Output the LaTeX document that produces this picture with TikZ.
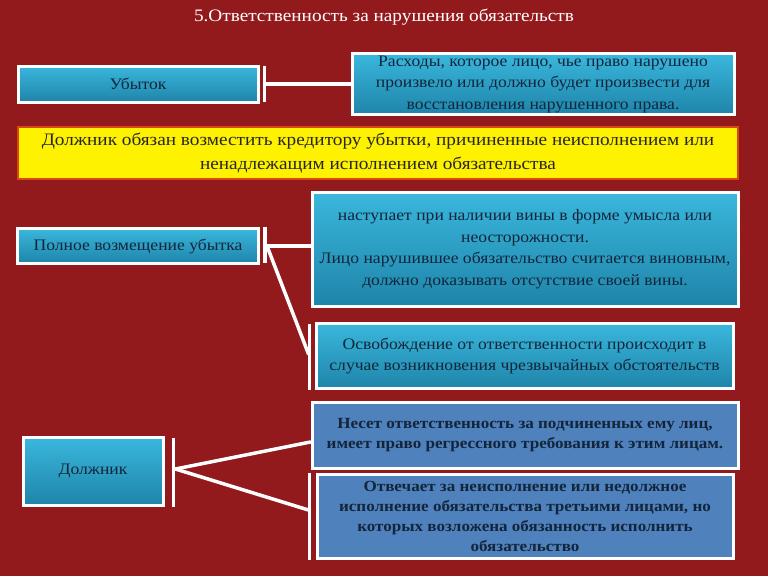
\documentclass[tikz,border=0pt]{standalone}
\usepackage{fontspec}
\setmainfont[FakeStretch=1.1]{Liberation Serif}
\definecolor{bgred}{HTML}{921A1C}
\definecolor{boxtop}{HTML}{3AB7DD}
\definecolor{boxbot}{HTML}{1F84A9}
\definecolor{steel}{HTML}{4F81BD}
\definecolor{navy}{HTML}{12253A}
\definecolor{yelframe}{HTML}{D9480F}
\tikzset{
  cyanbox/.style={draw=white, line width=3pt, top color=boxtop, bottom color=boxbot,
    text=navy, align=center, inner sep=2pt, font=\fontsize{16}{21.5}\selectfont},
  bluebox/.style={draw=white, line width=3pt, fill=steel, text=navy, align=center,
    inner sep=2pt, font=\bfseries\fontsize{15.5}{20}\selectfont},
  yelbox/.style={draw=yelframe, line width=1.5pt, fill=yellow, text=black!85,
    align=center, font=\fontsize{17.5}{24}\selectfont},
  bar/.style={draw=white, line width=3.5pt},
  link/.style={draw=white, line width=3.5pt, line cap=round}
}
\begin{document}
\begin{tikzpicture}[x=1pt, y=-1pt]
\fill[bgred] (0,0) rectangle (768,576);
\useasboundingbox (0,0) rectangle (768,576);

\node[text=white, font=\fontsize{17.5}{20}\selectfont] (title) at (384,17)
  {5.Ответственность за нарушения обязательств};

\node[cyanbox, minimum width=240pt, minimum height=36pt] (ubytok) at (138,84) {Убыток};
\node[cyanbox, minimum width=382pt, minimum height=61pt] (rashody) at (543,84)
  {Расходы, которое лицо, чье право нарушено\\
   произвело или должно будет произвести для\\
   восстановления нарушенного права.};

\node[yelbox, minimum width=720pt, minimum height=52pt] (obyazan) at (378,153)
  {Должник обязан возместить кредитору убытки, причиненные неисполнением или\\
   ненадлежащим исполнением обязательства};

\node[cyanbox, minimum width=241pt, minimum height=35pt] (polnoe) at (138,246)
  {Полное возмещение убытка};
\node[cyanbox, minimum width=426pt, minimum height=114pt] (nastup) at (525,249)
  {наступает при наличии вины в форме умысла или\\
   неосторожности.\\
   Лицо нарушившее обязательство считается виновным,\\
   должно доказывать отсутствие своей вины.};
\node[cyanbox, minimum width=417pt, minimum height=65pt] (osvob) at (524.5,356)
  {Освобождение от ответственности происходит в\\
   случае возникновения чрезвычайных обстоятельств};

\node[cyanbox, minimum width=140pt, minimum height=68pt] (dolzhnik) at (93,471) {Должник};
\node[bluebox, minimum width=426pt, minimum height=66pt] (neset) at (525,435)
  {Несет ответственность за подчиненных ему лиц,\\
   имеет право регрессного требования к этим лицам.};
\node[bluebox, minimum width=416pt, minimum height=84pt] (otvech) at (525,516)
  {Отвечает за неисполнение или недолжное\\
   исполнение обязательства третьими лицами, но\\
   которых возложена обязанность исполнить\\
   обязательство};

% bars beside the boxes
\draw[bar] ([xshift=5pt,yshift=-1pt]ubytok.north east) -- ([xshift=5pt,yshift=2pt]ubytok.south east);
\draw[bar] ([xshift=5pt]polnoe.north east) -- ([xshift=5pt,yshift=2pt]polnoe.south east);
\draw[bar] ([xshift=-5pt,yshift=-2pt]osvob.north west) -- ([xshift=-5pt]osvob.south west);
\draw[bar] ([xshift=9pt,yshift=-2pt]dolzhnik.north east) -- ([xshift=9pt]dolzhnik.south east);
\draw[bar] ([xshift=-6pt]otvech.north west) -- ([xshift=-6pt]otvech.south west);

\coordinate (ubend) at ([xshift=6pt]ubytok.east);
\coordinate (polend) at ([xshift=7pt]polnoe.east);
\coordinate (osvend) at ([xshift=-6pt,yshift=2pt]osvob.west);
\coordinate (dolend) at ([xshift=11pt,yshift=2pt]dolzhnik.east);
\coordinate (otvend) at ([xshift=-7pt,yshift=6pt]otvech.west);

% connectors
\draw[link] (ubend) -- (rashody.west |- ubend);
\draw[link] (polend) -- (nastup.west |- polend);
\draw[link] (polend) -- (osvend);
\draw[link] (dolend) -- ([yshift=-7pt]neset.west);
\draw[link] (dolend) -- (otvend);
\end{tikzpicture}
\end{document}
